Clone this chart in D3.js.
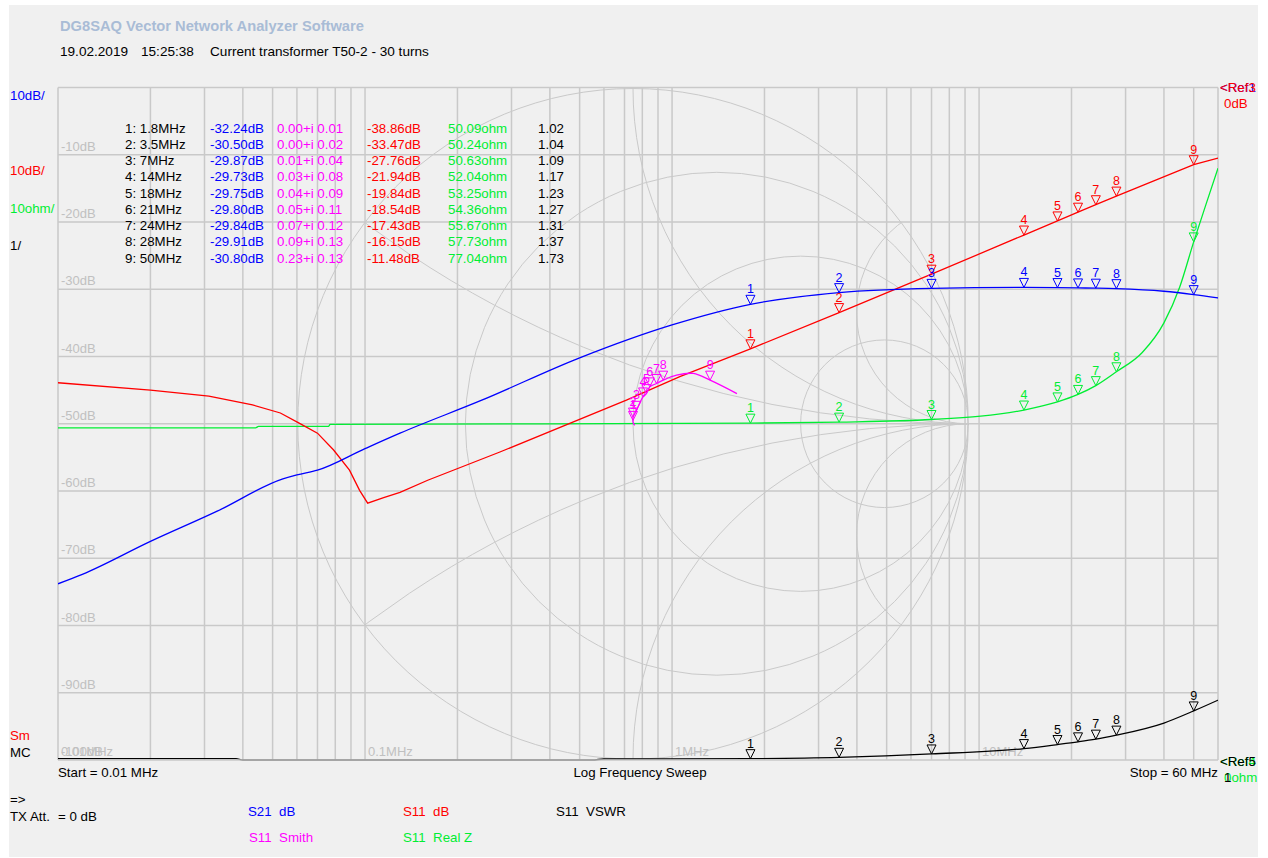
<!DOCTYPE html>
<html>
<head>
<meta charset="utf-8">
<script src="https://cdn.jsdelivr.net/npm/d3@7"></script>
<style>
  body { margin: 0; background: #fff; }
  svg { display: block; font-family: "Liberation Sans", Arial, sans-serif; }
  text { white-space: pre; }
</style>
</head>
<body>
<svg id="chart" width="1268" height="858"></svg>
<script>
// S21 dB trace (blue)
const s21Freq = [0.01, 0.012, 0.02, 0.033, 0.054, 0.06, 0.07, 0.1, 0.13, 0.24, 0.5, 1.0, 1.8, 3.5, 7, 14, 18, 21, 24, 28, 40, 50, 60];
const s21dB = [-73.8, -72.4, -67.5, -63.0, -58.2, -57.6, -56.9, -53.7, -51.4, -46.5, -40.2, -35.3, -32.24, -30.50, -29.87, -29.73, -29.75, -29.80, -29.84, -29.91, -30.3, -30.80, -31.3];

// S11 dB trace (red)
const s11Freq = [0.01, 0.02, 0.031, 0.043, 0.053, 0.061, 0.07, 0.079, 0.089, 0.096, 0.102, 0.115, 0.13, 0.16, 0.275, 0.71, 1.06, 1.8, 3.5, 7, 14, 18, 21, 24, 28, 50, 60];
const s11dB = [-43.9, -45.0, -45.9, -47.2, -48.4, -49.9, -51.4, -53.9, -56.9, -59.9, -61.8, -61.0, -60.2, -58.4, -54.2, -46.5, -43.0, -38.86, -33.47, -27.76, -21.94, -19.84, -18.54, -17.43, -16.15, -11.48, -10.5];

// S11 real part of Z (green)
const reZFreq = [0.01, 0.044, 0.045, 0.076, 0.077, 1.8, 3.5, 7, 14, 18, 21, 24, 28, 34, 40, 45, 50, 55, 60];
const reZ = [49.4, 49.4, 49.6, 49.6, 49.9, 50.09, 50.24, 50.63, 52.04, 53.25, 54.36, 55.67, 57.73, 60.6, 65.0, 70.3, 77.04, 82.8, 88];

// S11 VSWR (black)
const vswrFreq = [0.01, 0.038, 0.04, 0.55, 0.6, 1.0, 1.8, 3.5, 7, 14, 18, 21, 24, 28, 40, 50, 60];
const vswr = [1.02, 1.02, 1.0, 1.0, 1.015, 1.015, 1.02, 1.04, 1.09, 1.17, 1.23, 1.27, 1.31, 1.37, 1.55, 1.73, 1.89];

// S11 Smith (reflection coefficient, magenta)
const smithFreq = [0.01, 1.0, 1.8, 3.5, 7, 14, 18, 21, 24, 28, 35, 42, 50, 60];
const smithRe = [0.005, 0.0, 0.00, 0.00, 0.01, 0.03, 0.04, 0.05, 0.07, 0.09, 0.13, 0.18, 0.23, 0.31];
const smithIm = [-0.005, 0.005, 0.01, 0.02, 0.04, 0.08, 0.09, 0.11, 0.12, 0.13, 0.145, 0.15, 0.13, 0.09];

// markers
const markerFreq = [1.8, 3.5, 7, 14, 18, 21, 24, 28, 50];
const markerName = ["1: 1.8MHz", "2: 3.5MHz", "3: 7MHz", "4: 14MHz", "5: 18MHz", "6: 21MHz", "7: 24MHz", "8: 28MHz", "9: 50MHz"];
const mkS21 = [-32.24, -30.50, -29.87, -29.73, -29.75, -29.80, -29.84, -29.91, -30.80];
const mkSmithRe = [0.00, 0.00, 0.01, 0.03, 0.04, 0.05, 0.07, 0.09, 0.23];
const mkSmithIm = [0.01, 0.02, 0.04, 0.08, 0.09, 0.11, 0.12, 0.13, 0.13];
const mkS11 = [-38.86, -33.47, -27.76, -21.94, -19.84, -18.54, -17.43, -16.15, -11.48];
const mkReZ = [50.09, 50.24, 50.63, 52.04, 53.25, 54.36, 55.67, 57.73, 77.04];
const mkVswr = [1.02, 1.04, 1.09, 1.17, 1.23, 1.27, 1.31, 1.37, 1.73];

// axis texts
const dbTicks = [-10, -20, -30, -40, -50, -60, -70, -80, -90, -100];
const freqLabelVals = [0.01, 0.1, 1, 10];
const freqLabels = ["0.01MHz", "0.1MHz", "1MHz", "10MHz"];
const smithR = [1 / 3, 1, 3];
const smithX = [1 / 3, 1, 3, -1 / 3, -1, -3];

const BLUE = "#0000ff", RED = "#ff0000", GREEN = "#00ee33", MAG = "#ff00ff", BLACK = "#000000";
const GRID = "#c9c9c9", LABEL = "#c0c0c0";

const svg = d3.select("#chart");
svg.append("rect").attr("x", 9).attr("y", 5).attr("width", 1249).attr("height", 852).attr("fill", "#f0f0f0");

const pLeft = 58, pRight = 1218, pTop = 87.5, pBottom = 760;
const x = d3.scaleLog().domain([0.01, 60]).range([pLeft, pRight]);
const yDb = d3.scaleLinear().domain([-100, 0]).range([pBottom, pTop]);
const yOhm = d3.scaleLinear().domain([0, 100]).range([pBottom, pTop]);
const yVswr = d3.scaleLinear().domain([1, 11]).range([pBottom, pTop]);

// smith chart geometry
const R = (pBottom - pTop) / 2 - 1;
const cy = (pTop + pBottom) / 2;
const cx = 633;
const gx = d3.scaleLinear().domain([-1, 1]).range([cx - R, cx + R]);
const gy = d3.scaleLinear().domain([-1, 1]).range([cy + R, cy - R]);

// header
svg.append("text").attr("x", 60).attr("y", 31).text("DG8SAQ Vector Network Analyzer Software")
  .attr("font-size", "14.7px").attr("font-weight", "bold").attr("fill", "#a9bcd6");
svg.append("text").attr("x", 60).attr("y", 56).text("19.02.2019").attr("font-size", "13.6px");
svg.append("text").attr("x", 141).attr("y", 56).text("15:25:38").attr("font-size", "13.6px");
svg.append("text").attr("x", 210).attr("y", 56).text("Current transformer T50-2 - 30 turns").attr("font-size", "13.6px");

// grid
const grid = svg.append("g").attr("stroke", GRID).attr("stroke-width", 1.5);
grid.selectAll("line.v").data(x.ticks()).enter().append("line")
  .attr("x1", d => x(d)).attr("x2", d => x(d)).attr("y1", pTop).attr("y2", pBottom);
grid.selectAll("line.h").data(dbTicks.slice(0, -1).concat([0])).enter().append("line")
  .attr("x1", pLeft).attr("x2", pRight).attr("y1", d => yDb(d)).attr("y2", d => yDb(d));

// smith chart lines
svg.append("clipPath").attr("id", "smithClip").append("circle")
  .attr("cx", cx).attr("cy", cy).attr("r", R);
const smith = svg.append("g").attr("fill", "none").attr("stroke", GRID).attr("stroke-width", 1);
smith.append("circle").attr("cx", cx).attr("cy", cy).attr("r", R);
const sg = smith.append("g").attr("clip-path", "url(#smithClip)");
sg.selectAll("circle.r").data(smithR).enter().append("circle")
  .attr("cx", d => gx(d / (1 + d))).attr("cy", gy(0))
  .attr("r", d => gx(1 / (1 + d)) - gx(0));
sg.selectAll("circle.x").data(smithX).enter().append("circle")
  .attr("cx", gx(1)).attr("cy", d => gy(1 / d))
  .attr("r", d => gx(1 / Math.abs(d)) - gx(0));

// axis labels
const lab = svg.append("g").attr("font-size", "13px").attr("fill", LABEL);
lab.selectAll("text.db").data(dbTicks).enter().append("text")
  .attr("x", pLeft + 3).attr("y", d => yDb(d) - 4).text(d => d + "dB");
lab.selectAll("text.f").data(freqLabelVals).enter().append("text")
  .attr("x", d => x(d) + 3).attr("y", pBottom - 4).text((d, i) => freqLabels[i]);

// traces
svg.append("clipPath").attr("id", "plotClip").append("rect")
  .attr("x", pLeft).attr("y", pTop).attr("width", pRight - pLeft).attr("height", pBottom - pTop + 1);
const traces = svg.append("g").attr("clip-path", "url(#plotClip)").attr("fill", "none").attr("stroke-width", 1.3);
const smooth = d3.line().curve(d3.curveMonotoneX);
const straight = d3.line();
function trace(fs, vs, yScale, color, gen) {
  const pts = fs.map((f, i) => [x(f), yScale(vs[i])]);
  traces.append("path").attr("d", gen(pts)).attr("stroke", color);
}
trace(vswrFreq, vswr, yVswr, BLACK, smooth);
trace(reZFreq, reZ, yOhm, GREEN, smooth);
trace(s11Freq, s11dB, yDb, RED, straight);
trace(s21Freq, s21dB, yDb, BLUE, smooth);
const smithPts = smithFreq.map((f, i) => [gx(smithRe[i]), gy(smithIm[i])]);
traces.append("path").attr("d", d3.line().curve(d3.curveCatmullRom)(smithPts)).attr("stroke", MAG);

// bottom border over the traces, as in the reference
svg.append("line").attr("x1", pLeft).attr("x2", pRight).attr("y1", pBottom).attr("y2", pBottom)
  .attr("stroke", GRID).attr("stroke-width", 1.5);

// markers
const mk = svg.append("g");
function marker(px, py, n, color) {
  mk.append("path").attr("d", `M${px - 4.5},${py - 9}L${px + 4.5},${py - 9}L${px},${py}Z`)
    .attr("fill", "none").attr("stroke", color).attr("stroke-width", 1);
  mk.append("text").attr("x", px).attr("y", py - 11).attr("text-anchor", "middle")
    .attr("font-size", "12.5px").attr("fill", color).text(n);
}
markerFreq.forEach((f, i) => {
  marker(x(f), yVswr(mkVswr[i]), i + 1, BLACK);
  marker(x(f), yOhm(mkReZ[i]), i + 1, GREEN);
  marker(x(f), yDb(mkS11[i]), i + 1, RED);
  marker(x(f), yDb(mkS21[i]), i + 1, BLUE);
  marker(gx(mkSmithRe[i]), gy(mkSmithIm[i]), i + 1, MAG);
});

// marker table
const table = svg.append("g").attr("font-size", "13.3px");
markerFreq.forEach((f, i) => {
  const ty = 132.5 + i * 16.25;
  table.append("text").attr("x", 125).attr("y", ty).attr("fill", BLACK).text(markerName[i]);
  table.append("text").attr("x", 210).attr("y", ty).attr("fill", BLUE).text(mkS21[i].toFixed(2) + "dB");
  table.append("text").attr("x", 277).attr("y", ty).attr("fill", MAG)
    .text(mkSmithRe[i].toFixed(2) + "+i " + mkSmithIm[i].toFixed(2));
  table.append("text").attr("x", 367).attr("y", ty).attr("fill", RED).text(mkS11[i].toFixed(2) + "dB");
  table.append("text").attr("x", 448).attr("y", ty).attr("fill", GREEN).text(mkReZ[i].toFixed(2) + "ohm");
  table.append("text").attr("x", 564).attr("y", ty).attr("text-anchor", "end").attr("fill", BLACK).text(mkVswr[i].toFixed(2));
});

// left scale texts
const side = svg.append("g").attr("font-size", "13.3px");
side.append("text").attr("x", 10).attr("y", 100).attr("fill", BLUE).text("10dB/");
side.append("text").attr("x", 10).attr("y", 175).attr("fill", RED).text("10dB/");
side.append("text").attr("x", 10).attr("y", 213).attr("fill", GREEN).text("10ohm/");
side.append("text").attr("x", 10).attr("y", 250).attr("fill", BLACK).text("1/");
side.append("text").attr("x", 10).attr("y", 740).attr("fill", RED).text("Sm");
side.append("text").attr("x", 10).attr("y", 757).attr("fill", BLACK).text("MC");

// right reference texts
side.append("text").attr("x", 1220).attr("y", 92).attr("fill", BLUE).text("<Ref1");
side.append("text").attr("x", 1220).attr("y", 92).attr("fill", RED).text("<Ref3");
side.append("text").attr("x", 1224).attr("y", 108).attr("fill", RED).text("0dB");
side.append("text").attr("x", 1220).attr("y", 766).attr("fill", GREEN).text("<Ref4");
side.append("text").attr("x", 1220).attr("y", 766).attr("fill", BLACK).text("<Ref5");
side.append("text").attr("x", 1224).attr("y", 782).attr("fill", GREEN).text("0ohm");
side.append("text").attr("x", 1224).attr("y", 782).attr("fill", BLACK).text("1");

// bottom texts
side.append("text").attr("x", pLeft).attr("y", 777).text("Start = 0.01 MHz");
side.append("text").attr("x", 640).attr("y", 777).attr("text-anchor", "middle").text("Log Frequency Sweep");
side.append("text").attr("x", pRight).attr("y", 777).attr("text-anchor", "end").text("Stop = 60 MHz");
side.append("text").attr("x", 10).attr("y", 804).text("=>");
side.append("text").attr("x", 10).attr("y", 821).text("TX Att.");
side.append("text").attr("x", 58).attr("y", 821).text("= 0 dB");

// legend
const legend = svg.append("g").attr("font-size", "13.3px");
legend.append("text").attr("x", 248).attr("y", 816).attr("fill", BLUE).text("S21  dB");
legend.append("text").attr("x", 249).attr("y", 842).attr("fill", MAG).text("S11  Smith");
legend.append("text").attr("x", 403).attr("y", 816).attr("fill", RED).text("S11  dB");
legend.append("text").attr("x", 403).attr("y", 842).attr("fill", GREEN).text("S11  Real Z");
legend.append("text").attr("x", 556).attr("y", 816).attr("fill", BLACK).text("S11  VSWR");
</script>
</body>
</html>
